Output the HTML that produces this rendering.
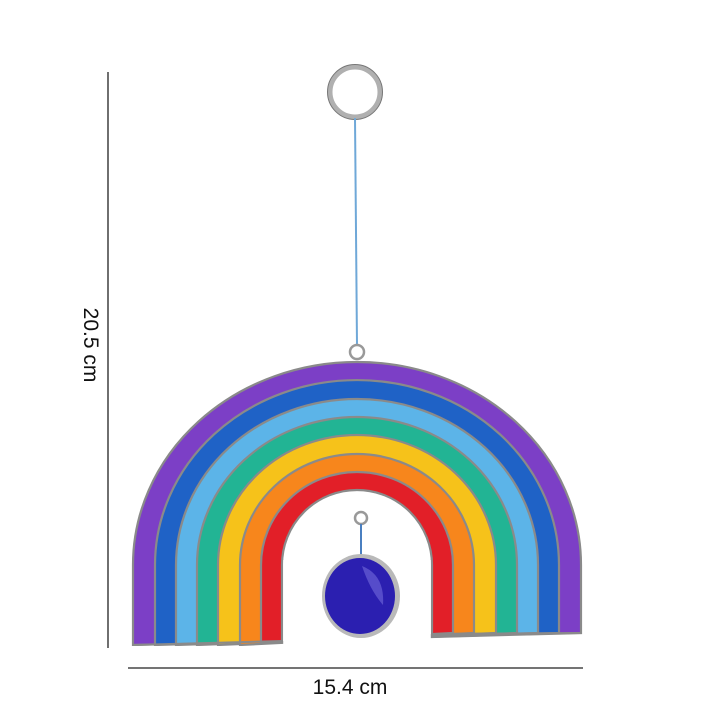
<!DOCTYPE html>
<html><head><meta charset="utf-8"><style>
html,body{margin:0;padding:0;background:#fff;}
svg{display:block}
</style></head><body>
<svg width="720" height="720" viewBox="0 0 720 720" xmlns="http://www.w3.org/2000/svg">
<rect width="720" height="720" fill="#fff"/>
<line x1="108" y1="72" x2="108" y2="648" stroke="#222" stroke-width="1.3"/>
<text x="0" y="0" transform="translate(84,345) rotate(90)" font-family="Liberation Sans, sans-serif" font-size="21" text-anchor="middle" fill="#111">20.5 cm</text>
<line x1="128" y1="668" x2="583" y2="668" stroke="#222" stroke-width="1.3"/>
<text x="350" y="694" font-family="Liberation Sans, sans-serif" font-size="21" text-anchor="middle" fill="#111">15.4 cm</text>
<circle cx="355" cy="92" r="25" fill="none" stroke="#b0b0b0" stroke-width="5"/>
<circle cx="355" cy="92" r="27.5" fill="none" stroke="#777" stroke-width="1"/>
<line x1="355" y1="118" x2="357" y2="345" stroke="#6fa8d8" stroke-width="2"/>
<circle cx="357" cy="352" r="7" fill="none" stroke="#999" stroke-width="2.5"/>
<g stroke="#8a8a8a" stroke-width="2.2">
<path d="M133,645 L133,565 A224,203 0 0 1 581,565 L581,633 Z" fill="#7c3fc6"/>
<path d="M155,645 L155,565 A202,185 0 0 1 559,565 L559,633 Z" fill="#1f62c6"/>
<path d="M176,645 L176,565 A181,166 0 0 1 538,565 L538,633 Z" fill="#5cb4e8"/>
<path d="M197,645 L197,565 A160,148 0 0 1 517,565 L517,633 Z" fill="#22b494"/>
<path d="M218,645 L218,565 A139,130 0 0 1 496,565 L496,633 Z" fill="#f6c21a"/>
<path d="M240,645 L240,565 A117,111 0 0 1 474,565 L474,633 Z" fill="#f7861c"/>
<path d="M261,643 L261,565 A96,93 0 0 1 453,565 L453,633 Z" fill="#e21f28"/>
<path d="M282,641 L282,565 A75,75 0 0 1 432,565 L432,634" fill="#fff"/>
</g>
<rect x="125" y="646" width="470" height="14" fill="#fff"/>
<rect x="283.2" y="560" width="147.6" height="100" fill="#fff"/>
<path d="M133,645 L282,641 M432,634 L581,633" stroke="#8a8a8a" stroke-width="2"/>
<circle cx="361" cy="518" r="6" fill="none" stroke="#999" stroke-width="2.5"/>
<line x1="361" y1="524" x2="361" y2="556" stroke="#4a7fc0" stroke-width="2"/>
<ellipse cx="361" cy="596" rx="39" ry="42" fill="#b9b9b9"/>
<ellipse cx="360" cy="596" rx="35" ry="38" fill="#2b1fb0"/>
<path d="M362,566 Q385,575 383,605 Q370,590 362,566 Z" fill="#6a5fd6" opacity="0.7"/>
</svg>
</body></html>
